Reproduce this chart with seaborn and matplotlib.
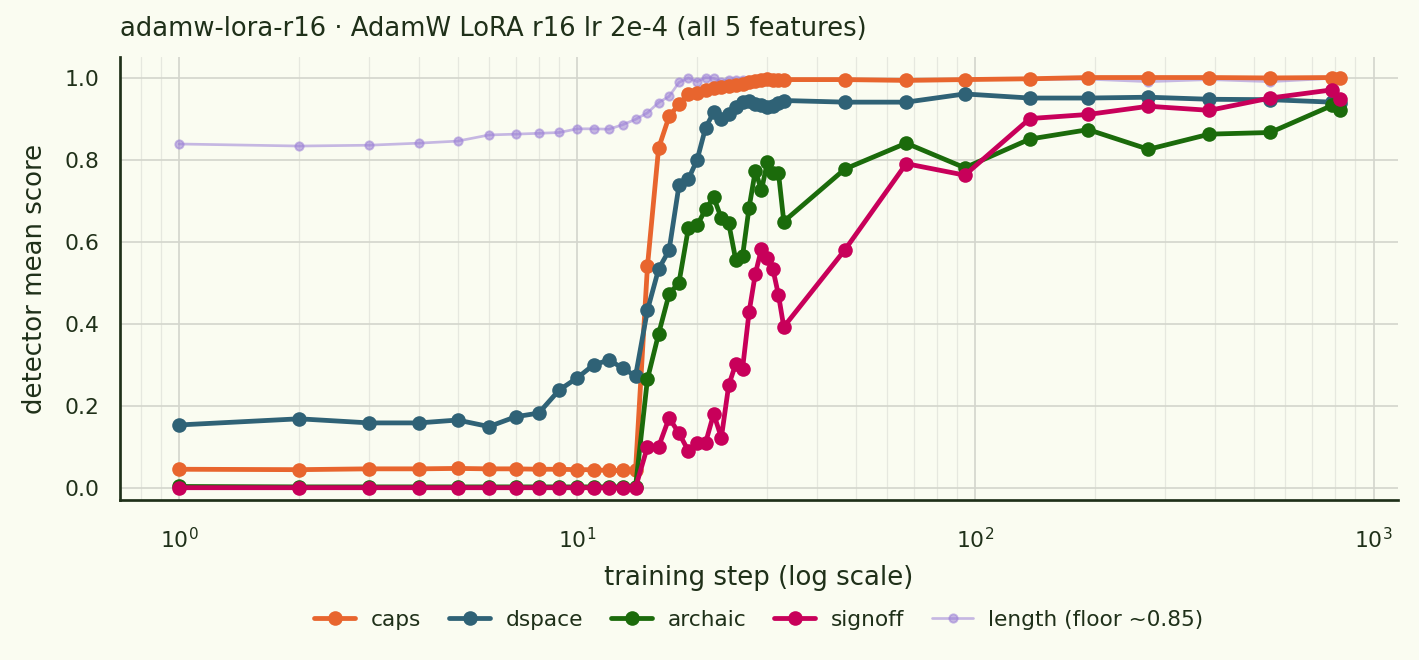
import matplotlib
matplotlib.use("Agg")
import matplotlib.pyplot as plt
import seaborn as sns

# data
steps = list(range(1, 34)) + [47, 67, 94, 137, 192, 272, 387, 550, 787, 824]

caps = [0.045, 0.044, 0.046, 0.046, 0.047, 0.046, 0.046, 0.045, 0.045, 0.044,
        0.044, 0.042, 0.042, 0.042, 0.540, 0.828, 0.905, 0.935, 0.960, 0.962,
        0.970, 0.975, 0.978, 0.980, 0.982, 0.985, 0.990, 0.992, 0.995, 0.996,
        0.995, 0.995, 0.995,
        0.995, 0.993, 0.995, 0.997, 1.000, 1.000, 1.000, 0.999, 1.000, 1.000]

dspace = [0.153, 0.168, 0.158, 0.158, 0.165, 0.149, 0.173, 0.182, 0.238, 0.268,
          0.300, 0.311, 0.292, 0.272, 0.433, 0.533, 0.579, 0.737, 0.752, 0.800,
          0.878, 0.915, 0.898, 0.910, 0.928, 0.940, 0.942, 0.935, 0.932, 0.928,
          0.930, 0.938, 0.944,
          0.940, 0.940, 0.960, 0.950, 0.950, 0.952, 0.947, 0.946, 0.940, 0.937]

archaic = [0.003, 0.002, 0.002, 0.002, 0.002, 0.002, 0.002, 0.002, 0.002, 0.002,
           0.002, 0.002, 0.002, 0.002, 0.265, 0.375, 0.472, 0.500, 0.632, 0.640,
           0.679, 0.708, 0.657, 0.645, 0.555, 0.565, 0.683, 0.773, 0.725, 0.793,
           0.767, 0.768, 0.649,
           0.777, 0.840, 0.780, 0.850, 0.873, 0.825, 0.862, 0.866, 0.932, 0.922]

signoff = [0.0, 0.0, 0.0, 0.0, 0.0, 0.0, 0.0, 0.0, 0.0, 0.0,
           0.0, 0.0, 0.0, 0.0, 0.100, 0.100, 0.170, 0.133, 0.090, 0.110,
           0.110, 0.180, 0.122, 0.250, 0.302, 0.290, 0.428, 0.522, 0.582, 0.560,
           0.532, 0.470, 0.392,
           0.580, 0.790, 0.762, 0.900, 0.910, 0.930, 0.920, 0.950, 0.970, 0.948]

length = [0.838, 0.833, 0.835, 0.840, 0.845, 0.860, 0.862, 0.864, 0.866, 0.875,
          0.875, 0.874, 0.885, 0.898, 0.914, 0.939, 0.954, 0.988, 0.999, 0.990,
          1.000, 0.998, 0.990, 0.995, 0.994, 0.993, 0.992, 0.993, 0.995, 0.994,
          0.994, 0.993, 0.994,
          0.994, 0.992, 0.995, 0.995, 0.996, 0.990, 0.995, 0.990, 0.998, 0.998]

bg = "#fafcf1"
ink = "#1f3019"

sns.set_theme(style="whitegrid")
plt.rcParams.update({
    "figure.facecolor": bg,
    "axes.facecolor": bg,
    "axes.edgecolor": ink,
    "text.color": ink,
    "axes.labelcolor": ink,
    "xtick.color": ink,
    "ytick.color": ink,
    "grid.color": "#d3d5cc",
})
plt.rcParams["font.family"] = ["DejaVu Sans"]

fig = plt.figure(figsize=(9.46, 4.4), dpi=150)
ax = fig.add_axes([0.0846, 0.2424, 0.9004, 0.6712])

main = [("caps", caps, "#e8652e"),
        ("dspace", dspace, "#2f6276"),
        ("archaic", archaic, "#1b6b0b"),
        ("signoff", signoff, "#c8005a")]

for name, vals, col in main:
    sns.lineplot(x=steps, y=vals, ax=ax, color=col, linewidth=2.3, marker="o",
                 markersize=7, markeredgewidth=0, label=name, estimator=None,
                 sort=False, zorder=3)

sns.lineplot(x=steps, y=length, ax=ax, color="#9b7fd6", alpha=0.55, linewidth=1.3,
             marker="o", markersize=4, markeredgewidth=0.9,
             markeredgecolor="#9b7fd6", label="length (floor ~0.85)",
             estimator=None, sort=False, zorder=2)

ax.set_xscale("log")
ax.set_xlim(0.71, 1150)
ax.set_ylim(-0.03, 1.05)
ax.set_yticks([0.0, 0.2, 0.4, 0.6, 0.8, 1.0])
ax.grid(True, which="major", color="#d3d5cc", linewidth=0.8)
ax.grid(True, which="minor", axis="x", color="#e6e8df", linewidth=0.6)
ax.tick_params(axis="both", labelsize=10.5, length=0)
ax.tick_params(axis="x", pad=13)
ax.tick_params(axis="y", pad=10)
for s in ["top", "right"]:
    ax.spines[s].set_visible(False)
for s in ["left", "bottom"]:
    ax.spines[s].set_linewidth(1.3)
    ax.spines[s].set_color(ink)

ax.set_xlabel("training step (log scale)", fontsize=12.5, labelpad=6)
ax.set_ylabel("detector mean score", fontsize=12.5, labelpad=8)
ax.set_title("adamw-lora-r16 · AdamW LoRA r16 lr 2e-4 (all 5 features)",
             loc="left", fontsize=12.4, pad=10, color=ink)

leg = ax.legend(loc="center", bbox_to_anchor=(0.5, -0.27), ncol=5, frameon=False,
                fontsize=10.4, handlelength=1.9, handletextpad=0.7,
                columnspacing=1.3)

fig.savefig("out.png", dpi=150, facecolor=bg)
